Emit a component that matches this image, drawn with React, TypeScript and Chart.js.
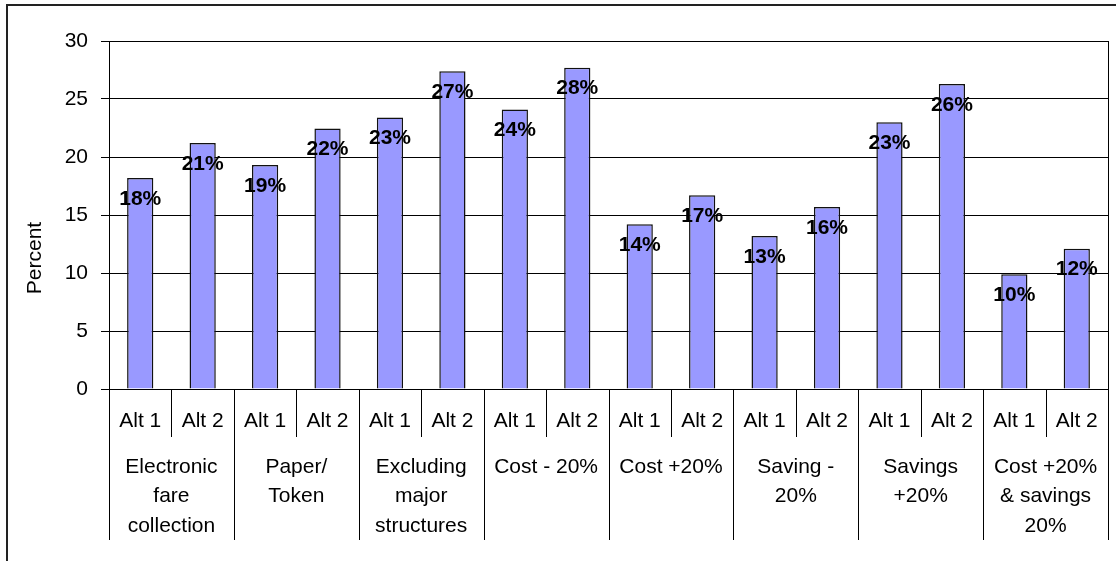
import React, { useEffect, useRef } from "react";
import { Chart, registerables } from "chart.js";

Chart.register(...registerables);

const subLabels = ["Alt 1", "Alt 2", "Alt 1", "Alt 2", "Alt 1", "Alt 2", "Alt 1", "Alt 2", "Alt 1", "Alt 2", "Alt 1", "Alt 2", "Alt 1", "Alt 2", "Alt 1", "Alt 2"];
const groupLabels: string[][] = [
  ["Electronic", "fare", "collection"],
  ["Paper/", "Token"],
  ["Excluding", "major", "structures"],
  ["Cost - 20%"],
  ["Cost +20%"],
  ["Saving -", "20%"],
  ["Savings", "+20%"],
  ["Cost +20%", "& savings", "20%"],
];
const values = [18.2, 21.2, 19.3, 22.45, 23.4, 27.4, 24.1, 27.7, 14.2, 16.7, 13.2, 15.7, 23.0, 26.3, 9.9, 12.1];
const yTitle = "Percent";

const FONT = "'Liberation Sans', Arial, sans-serif";

const customPlugin = {
  id: "custom",
  afterDraw(chart: any) {
    const ctx = chart.ctx;
    const area = chart.chartArea;
    const xs = chart.scales.x;
    ctx.save();
    // frame
    ctx.strokeStyle = "#222";
    ctx.lineWidth = 2;
    ctx.beginPath();
    ctx.moveTo(7, 561);
    ctx.lineTo(7, 5);
    ctx.lineTo(1116, 5);
    ctx.stroke();
    // plot right border
    ctx.strokeStyle = "#000";
    ctx.lineWidth = 1;
    ctx.beginPath();
    ctx.moveTo(Math.round(area.right) + 0.5, area.top);
    ctx.lineTo(Math.round(area.right) + 0.5, area.bottom);
    ctx.stroke();

    const n = subLabels.length;
    const step = n > 1 ? xs.getPixelForValue(1) - xs.getPixelForValue(0) : area.right - area.left;
    // separators
    ctx.strokeStyle = "#000";
    ctx.lineWidth = 1;
    for (let i = 0; i <= n; i++) {
      const bx = i === 0 ? area.left : i === n ? area.right : xs.getPixelForValue(i) - step / 2;
      const px = Math.round(bx) + 0.5;
      const bottom = i % 2 === 0 ? 540 : 437;
      ctx.beginPath();
      ctx.moveTo(px, area.bottom);
      ctx.lineTo(px, bottom);
      ctx.stroke();
    }
    // sub labels
    ctx.fillStyle = "#000";
    ctx.font = `21px ${FONT}`;
    ctx.textAlign = "center";
    ctx.textBaseline = "middle";
    for (let i = 0; i < n; i++) {
      ctx.fillText(subLabels[i], xs.getPixelForValue(i), 421);
    }
    // group labels
    groupLabels.forEach((lines, g) => {
      const cx = (xs.getPixelForValue(2 * g) + xs.getPixelForValue(2 * g + 1)) / 2;
      lines.forEach((ln, k) => {
        ctx.fillText(ln, cx, 467 + k * 29.5);
      });
    });
    // data labels
    ctx.font = `bold 21px ${FONT}`;
    const meta = chart.getDatasetMeta(0);
    meta.data.forEach((bar: any, i: number) => {
      ctx.fillText(Math.round(values[i]) + "%", bar.x, bar.y + 21);
    });
    // y title
    ctx.font = `21px ${FONT}`;
    ctx.translate(35.5, 258);
    ctx.rotate(-Math.PI / 2);
    ctx.fillText(yTitle, 0, 0);
    ctx.restore();
  },
};

export default function App() {
  const ref = useRef<HTMLCanvasElement | null>(null);
  useEffect(() => {
    document.body.style.margin = "0";
    const chart = new Chart(ref.current as HTMLCanvasElement, {
      type: "bar",
      data: {
        labels: subLabels,
        datasets: [
          {
            data: values,
            backgroundColor: "#9999FF",
            borderColor: "#111",
            borderWidth: 1.5,
            barPercentage: 0.42,
            categoryPercentage: 1,
          },
        ],
      },
      options: {
        animation: false,
        responsive: false,
        maintainAspectRatio: false,
        layout: { padding: { top: 41, right: 8, left: 0, bottom: 0 } },
        plugins: { legend: { display: false }, tooltip: { enabled: false } },
        scales: {
          x: {
            ticks: { display: false },
            grid: { display: false },
            border: { display: true, color: "#000", width: 1 },
            afterFit(scale: any) {
              scale.height = 172;
            },
          },
          y: {
            min: 0,
            max: 30,
            ticks: {
              stepSize: 5,
              color: "#000",
              padding: 13,
              font: { family: FONT, size: 21 },
            },
            grid: { color: "#000", lineWidth: 1, tickLength: 8, drawTicks: true },
            border: { display: true, color: "#000", width: 1 },
            afterFit(scale: any) {
              scale.width = 109;
            },
          },
        },
      },
      plugins: [customPlugin],
    });
    return () => chart.destroy();
  }, []);
  return <canvas ref={ref} width={1116} height={561} style={{ display: "block" }} />;
}
